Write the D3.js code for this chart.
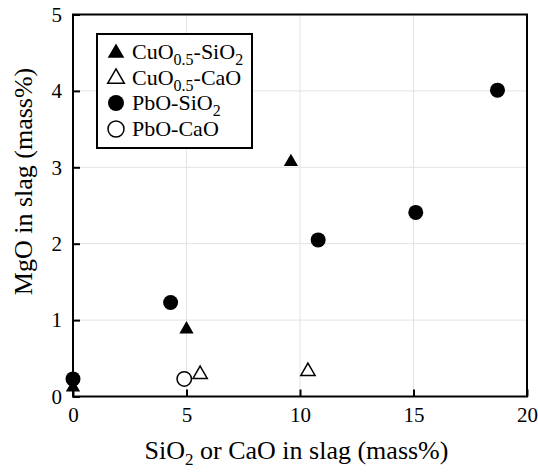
<!DOCTYPE html>
<meta charset="utf-8">
<style>
body { margin: 0; background: #fff; }
text { font-family: "Liberation Serif", "Times New Roman", serif; fill: #000; }
.grid line { stroke: #e3e3e3; stroke-width: 1; }
</style>
<svg width="538" height="472"></svg>
<script src="https://d3js.org/d3.v7.min.js"></script>
<script>

// data
var cuSiO2X = [0, 5.0, 9.6],
    cuSiO2Y = [0.12, 0.88, 3.07];
var cuCaOX = [5.6, 10.35],
    cuCaOY = [0.29, 0.33];
var pbSiO2X = [0, 4.3, 10.8, 15.1, 18.7],
    pbSiO2Y = [0.23, 1.23, 2.05, 2.41, 4.01];
var pbCaOX = [4.9],
    pbCaOY = [0.23];

var xTicks = [0, 5, 10, 15, 20],
    yTicks = [0, 1, 2, 3, 4, 5];

var svg = d3.select("svg"),
    margin = {top: 14.5, right: 11, bottom: 75.5, left: 73},
    width = +svg.attr("width") - margin.left - margin.right,
    height = +svg.attr("height") - margin.top - margin.bottom;

var g = svg.append("g")
    .attr("transform", "translate(" + margin.left + "," + margin.top + ")");

var x = d3.scaleLinear().domain([0, 20]).range([0, width]);
var y = d3.scaleLinear().domain([0, 5]).range([height, 0]);

// grid
g.append("g").attr("class", "grid")
  .selectAll("line").data(xTicks.slice(1, -1)).enter().append("line")
    .attr("x1", x).attr("x2", x).attr("y1", 0).attr("y2", height);
g.append("g").attr("class", "grid")
  .selectAll("line").data(yTicks.slice(1, -1)).enter().append("line")
    .attr("y1", y).attr("y2", y).attr("x1", 0).attr("x2", width);

// axes, ticks inward
var xAxis = g.append("g")
    .attr("transform", "translate(0," + height + ")")
    .call(d3.axisBottom(x).tickValues(xTicks).tickFormat(d3.format("d"))
      .tickSize(-7).tickSizeOuter(0).tickPadding(11));
var yAxis = g.append("g")
    .call(d3.axisLeft(y).tickValues(yTicks).tickFormat(d3.format("d"))
      .tickSize(-7).tickSizeOuter(0).tickPadding(11));

[xAxis, yAxis].forEach(function(a) {
  a.select(".domain").remove();
  a.selectAll("line").attr("stroke", "#000").attr("stroke-width", 2);
  a.selectAll("text")
      .style("font-family", "'Liberation Serif', 'Times New Roman', serif")
      .style("font-size", "21px")
      .attr("fill", "#000");
});

// frame
g.append("rect")
    .attr("width", width)
    .attr("height", height)
    .attr("fill", "none")
    .attr("stroke", "#000")
    .attr("stroke-width", 2);

var tri = d3.symbol().type(d3.symbolTriangle).size(88);
var tri2 = d3.symbol().type(d3.symbolTriangle).size(120);

function pts(xs, ys) {
  return xs.map(function(v, i) { return [v, ys[i]]; });
}

// markers
g.selectAll(".cuSi").data(pts(cuSiO2X, cuSiO2Y)).enter().append("path")
    .attr("transform", function(d) { return "translate(" + x(d[0]) + "," + y(d[1]) + ")"; })
    .attr("d", tri)
    .attr("fill", "#000");

g.selectAll(".cuCa").data(pts(cuCaOX, cuCaOY)).enter().append("path")
    .attr("transform", function(d) { return "translate(" + x(d[0]) + "," + y(d[1]) + ")"; })
    .attr("d", tri)
    .attr("fill", "#fff")
    .attr("stroke", "#000")
    .attr("stroke-width", 1.5);

g.selectAll(".pbSi").data(pts(pbSiO2X, pbSiO2Y)).enter().append("circle")
    .attr("cx", function(d) { return x(d[0]); })
    .attr("cy", function(d) { return y(d[1]); })
    .attr("r", 7.5)
    .attr("fill", "#000");

g.selectAll(".pbCa").data(pts(pbCaOX, pbCaOY)).enter().append("circle")
    .attr("cx", function(d) { return x(d[0]); })
    .attr("cy", function(d) { return y(d[1]); })
    .attr("r", 7.2)
    .attr("fill", "#fff")
    .attr("stroke", "#000")
    .attr("stroke-width", 1.5);

// axis titles
var xt = svg.append("text")
    .attr("x", 296.5)
    .attr("y", 459)
    .attr("text-anchor", "middle")
    .style("font-size", "26px");
xt.append("tspan").text("SiO");
xt.append("tspan").attr("dy", 6).style("font-size", "17px").text("2");
xt.append("tspan").attr("dy", -6).text(" or CaO in slag (mass%)");

svg.append("text")
    .attr("transform", "translate(32,181.5) rotate(-90)")
    .attr("text-anchor", "middle")
    .style("font-size", "26px")
    .text("MgO in slag (mass%)");

// legend
var legend = svg.append("g");
legend.append("rect")
    .attr("x", 97).attr("y", 34)
    .attr("width", 155).attr("height", 114)
    .attr("fill", "#fff")
    .attr("stroke", "#000")
    .attr("stroke-width", 2);

var rows = [
  {y: 52, sym: "tri", fill: "#000", parts: [["CuO", 0], ["0.5", 1], ["-SiO", 0], ["2", 1]]},
  {y: 77.5, sym: "tri", fill: "#fff", parts: [["CuO", 0], ["0.5", 1], ["-CaO", 0]]},
  {y: 103, sym: "circle", fill: "#000", parts: [["PbO-SiO", 0], ["2", 1]]},
  {y: 129, sym: "circle", fill: "#fff", parts: [["PbO-CaO", 0]]}
];

rows.forEach(function(r) {
  if (r.sym === "tri") {
    legend.append("path")
        .attr("transform", "translate(116," + (r.y + 1) + ")")
        .attr("d", tri2)
        .attr("fill", r.fill)
        .attr("stroke", r.fill === "#fff" ? "#000" : "none")
        .attr("stroke-width", 1.5);
  } else {
    legend.append("circle")
        .attr("cx", 116).attr("cy", r.y)
        .attr("r", 8)
        .attr("fill", r.fill)
        .attr("stroke", r.fill === "#fff" ? "#000" : "none")
        .attr("stroke-width", 1.5);
  }
  var t = legend.append("text")
      .attr("x", 132)
      .attr("y", r.y + 7)
      .style("font-size", "22px");
  var sub = 0;
  r.parts.forEach(function(p) {
    var dy = p[1] ? 6 - sub : -sub;
    sub = p[1] ? 6 : 0;
    var s = t.append("tspan").attr("dy", dy).text(p[0]);
    if (p[1]) s.style("font-size", "16px");
  });
});

</script>
